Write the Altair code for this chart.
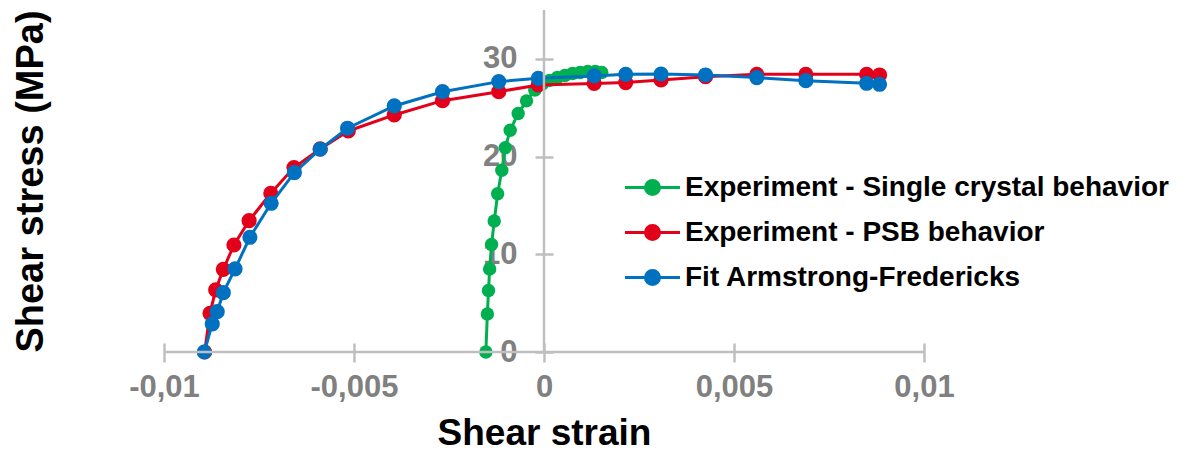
import altair as alt
import pandas as pd

series_names = [
    "Experiment - Single crystal behavior",
    "Experiment - PSB behavior",
    "Fit Armstrong-Fredericks",
]
series_colors = ["#00B050", "#E2001A", "#0070C0"]

sc_strain = [-0.00153, -0.00149, -0.00146, -0.00143, -0.00138, -0.00131, -0.00122,
             -0.00111, -0.00102, -0.00089, -0.00068, -0.00046, -0.00024, -0.00005,
             0.00015, 0.00035, 0.00055, 0.00075, 0.00095, 0.00115, 0.00135, 0.00152]
sc_stress = [0.0, 3.9, 6.3, 8.5, 11.0, 13.4, 16.2,
             18.6, 20.9, 22.7, 24.4, 25.7, 26.8, 27.4,
             27.8, 28.1, 28.3, 28.5, 28.6, 28.7, 28.7, 28.6]

psb_strain = [-0.00893, -0.00879, -0.00864, -0.00844, -0.00816, -0.00776, -0.00719,
              -0.00658, -0.00589, -0.00515, -0.00394, -0.00267, -0.00119, -0.00015,
              0.00132, 0.00215, 0.00308, 0.00425, 0.00560, 0.00689, 0.00849, 0.00883]
psb_stress = [0.0, 3.96, 6.35, 8.46, 10.95, 13.44, 16.24,
              18.87, 20.78, 22.62, 24.26, 25.72, 26.64, 27.33,
              27.48, 27.57, 27.84, 28.18, 28.42, 28.42, 28.42, 28.35]

fit_strain = [-0.00894, -0.00873, -0.00860, -0.00844, -0.00813, -0.00774, -0.00718,
              -0.00657, -0.00589, -0.00517, -0.00394, -0.00267, -0.00119, -0.00015,
              0.00132, 0.00215, 0.00308, 0.00425, 0.00560, 0.00689, 0.00849, 0.00883]
fit_stress = [0.0, 2.87, 4.13, 6.07, 8.5, 11.74, 15.22,
              18.35, 20.75, 22.9, 25.18, 26.64, 27.67, 28.01,
              28.25, 28.42, 28.45, 28.35, 28.08, 27.77, 27.5, 27.4]

x_ticks = [-0.01, -0.005, 0, 0.005, 0.01]
y_ticks = [0, 10, 20, 30]

rows = []
for name, xs, ys in zip(series_names,
                        [sc_strain, psb_strain, fit_strain],
                        [sc_stress, psb_stress, fit_stress]):
    for i, (xv, yv) in enumerate(zip(xs, ys)):
        rows.append({"series": name, "strain": xv, "stress": yv, "order": i})
df = pd.DataFrame(rows)

W, H = 760, 342
FONT = "Liberation Sans"
AXIS_GRAY = "#BFBFBF"
LABEL_GRAY = "#808080"

xscale = alt.Scale(domain=[-0.01, 0.01], nice=False, zero=False)
yscale = alt.Scale(domain=[0, 35], nice=False, zero=False)

x_axis = alt.Axis(
    values=x_ticks, labelExpr="replace(toString(datum.value), '.', ',')",
    domain=False, grid=False, offset=-9, tickSize=19, tickWidth=2.5,
    tickColor=AXIS_GRAY, labelColor=LABEL_GRAY, labelFont=FONT,
    labelFontWeight="bold", labelFontSize=31, labelPadding=10,
    labelFlush=False, labelOverlap=False,
    title="Shear strain", titleFont=FONT, titleFontSize=37,
    titleFontWeight="bold", titleColor="black",
    titleX=W / 2, titleY=101, titleAlign="center", titleBaseline="alphabetic",
)
y_axis = alt.Axis(
    values=y_ticks, domain=False, grid=False, offset=-(W / 2 + 9),
    tickSize=18, tickWidth=2.5, tickColor=AXIS_GRAY, labelColor=LABEL_GRAY,
    labelFont=FONT, labelFontWeight="bold", labelFontSize=31, labelPadding=18,
    labelOverlap=False,
    title="Shear stress (MPa)", titleFont=FONT, titleFontSize=38,
    titleFontWeight="bold", titleColor="black", titleAngle=270,
    titleX=-(W / 2 + 9) + 31 - 164, titleY=171,
    titleAlign="center", titleBaseline="middle",
)

legend_path = ("M-2,0L2,0M0.51,0A0.51,0.51,0,1,1,-0.51,0"
               "A0.51,0.51,0,1,1,0.51,0Z")
legend = alt.Legend(
    title=None, orient="none", legendX=473, legendY=162,
    symbolType=legend_path, symbolSize=756, symbolStrokeWidth=3,
    labelFont=FONT, labelFontSize=28, labelFontWeight="bold",
    labelColor="black", labelOffset=17, rowPadding=15, padding=0,
    labelLimit=700,
)

color = alt.Color("series:N", scale=alt.Scale(domain=series_names, range=series_colors),
                  legend=legend)

base = alt.Chart(df)
layers = []
sizes = [180, 230, 230]
for idx, name in enumerate(series_names):
    sub = base.transform_filter(alt.datum.series == name)
    enc = dict(
        x=alt.X("strain:Q", scale=xscale, axis=x_axis),
        y=alt.Y("stress:Q", scale=yscale, axis=y_axis),
        color=color,
        order=alt.Order("order:Q"),
    )
    layers.append(sub.mark_line(strokeWidth=3).encode(**enc))
    layers.append(sub.mark_point(filled=True, opacity=1, size=sizes[idx], shape="circle")
                  .encode(x=enc["x"], y=enc["y"], color=color))

one = pd.DataFrame({"k": [0]})
x_line = alt.Chart(one).mark_rule(color=AXIS_GRAY, strokeWidth=2.5).encode(
    x=alt.datum(-0.01), x2=alt.datum(0.01), y=alt.datum(0))
y_line = alt.Chart(one).mark_rule(color=AXIS_GRAY, strokeWidth=2.5).encode(
    x=alt.datum(0), y=alt.datum(0), y2=alt.datum(35))

chart = alt.layer(*layers, x_line, y_line).properties(
    width=W, height=H,
    autosize=alt.AutoSizeParams(type="none"),
    padding={"left": 156, "top": 2, "right": 261, "bottom": 101},
).configure_view(stroke=None)

chart.save("out.html", embed_options={"renderer": "svg", "actions": False})
